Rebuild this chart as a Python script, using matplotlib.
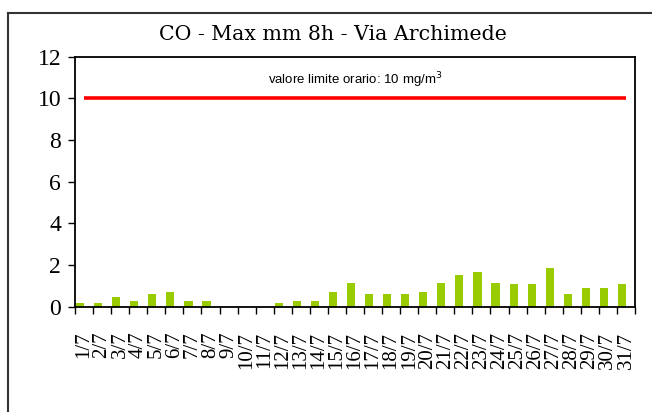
import matplotlib.pyplot as plt
import numpy as np
from matplotlib.lines import Line2D

plt.rcParams['font.family'] = ['Liberation Serif', 'DejaVu Serif']

giorni = [f"{d}/7" for d in range(1, 32)]
co_max = [0.2, 0.2, 0.45, 0.27, 0.62, 0.72, 0.27, 0.27, 0.0, 0.0, 0.0,
          0.19, 0.27, 0.27, 0.72, 1.15, 0.61, 0.6, 0.6, 0.7, 1.15, 1.5,
          1.68, 1.15, 1.07, 1.07, 1.86, 0.6, 0.88, 0.88, 1.07]
limite = [10] * 31

fig = plt.figure(figsize=(6.52, 4.12), dpi=100)
ax = fig.add_axes([75/652, 1-306.7/412, 560/652, 250/412])

x = np.arange(len(giorni))
ax.bar(x - 0.22, co_max, width=0.45, color='#99cc00', zorder=2)
ax.plot(x, limite, color='#ff0000', linewidth=2.6, solid_capstyle='butt', zorder=3)

ax.set_xlim(-0.5, len(giorni) - 0.5)
ax.set_ylim(0, 12)
ax.set_yticks(range(0, 13, 2))
ax.tick_params(axis='y', direction='out', length=5, width=1, labelsize=17, pad=5)

# tick marks between categories, labels centred on the bars
ax.set_xticks(np.arange(-0.5, len(giorni), 1.0))
ax.set_xticklabels([])
ax.tick_params(axis='x', which='major', direction='out', length=5, width=1)
ax.set_xticks(x, minor=True)
ax.set_xticklabels(giorni, minor=True, rotation=90, va='top', ha='center', fontsize=15)
ax.tick_params(axis='x', which='minor', length=0, pad=18)

for s in ax.spines.values():
    s.set_linewidth(1.3)
    s.set_color('black')

ax.text(0.5, 0.905, 'valore limite orario: 10 mg/m$^3$', transform=ax.transAxes,
        ha='center', va='center', fontsize=9.5, family='Liberation Sans')

fig.text(333/652, 1-34/412, 'CO - Max mm 8h - Via Archimede', ha='center', va='center',
         fontsize=14.8, family='DejaVu Serif')

# outer frame (left and top edges visible)
fig.add_artist(Line2D([8/652, 8/652], [0, 1-13/412], color='#333333', linewidth=1.5,
                      transform=fig.transFigure))
fig.add_artist(Line2D([8/652, 1], [1-13/412, 1-13/412], color='#333333', linewidth=1.5,
                      transform=fig.transFigure))

fig.savefig('out.png', dpi=100)
